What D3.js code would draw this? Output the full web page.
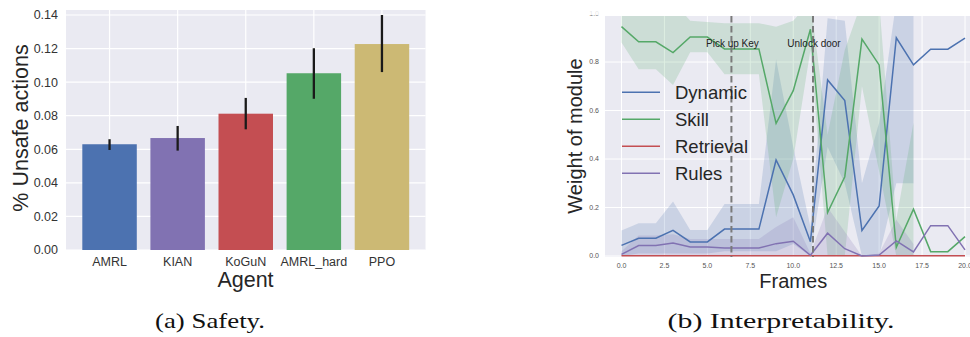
<!DOCTYPE html>
<html><head><meta charset="utf-8">
<script src="https://cdn.jsdelivr.net/npm/d3@7"></script>
<style>body{margin:0;background:#fff;}svg{display:block;font-family:"Liberation Sans",Arial,sans-serif;}</style>
</head><body>
<svg id="c" width="970" height="337"></svg>
<script>
// ---------- Left chart data ----------
const agents = ["AMRL","KIAN","KoGuN","AMRL_hard","PPO"];
const unsafe = [0.063, 0.0667, 0.0812, 0.1053, 0.1227];
const errLow = [0.0596, 0.0592, 0.0719, 0.0901, 0.106];
const errHigh = [0.066, 0.0739, 0.0906, 0.1202, 0.140];
const barColors = ["#4c72b0","#8172b2","#c44e52","#55a868","#ccb974"];
const leftTicks = [0.00,0.02,0.04,0.06,0.08,0.10,0.12,0.14];

// ---------- Right chart data ----------
const frames = d3.range(0,21);
const dynamic = [0.044,0.073,0.073,0.106,0.058,0.058,0.111,0.111,0.111,0.396,0.252,0.059,0.726,0.641,0.105,0.206,0.900,0.788,0.853,0.853,0.898];
const skill   = [0.946,0.883,0.883,0.839,0.903,0.903,0.854,0.854,0.854,0.547,0.682,0.935,0.179,0.327,0.894,0.788,0.036,0.193,0.018,0.018,0.080];
const retrieval = [0.001,0.001,0.001,0.001,0.001,0.001,0.001,0.001,0.001,0.001,0.001,0.001,0.001,0.001,0.001,0.001,0.001,0.001,0.001,0.001,0.001];
const rules   = [0.007,0.043,0.043,0.054,0.037,0.037,0.033,0.033,0.033,0.051,0.061,0.003,0.094,0.030,0.000,0.004,0.062,0.017,0.125,0.125,0.025];
// confidence bands (frames 0..17)
const dynLow  = [0.00,0.01,0.01,0.01,0.01,0.01,0.02,0.02,0.02,0.02,0.05,0.00,0.45,0.30,0.00,0.00,0.30,0.30];
const dynHigh = [0.105,0.135,0.135,0.225,0.107,0.107,0.214,0.214,0.214,0.81,0.45,0.12,0.98,0.97,0.30,0.55,1.05,1.05];
const skLow   = [0.88,0.77,0.77,0.705,0.84,0.84,0.75,0.75,0.75,0.16,0.40,0.85,0.00,0.00,0.70,0.35,0.00,0.00];
const skHigh  = [1.05,1.05,1.05,1.05,0.97,0.965,0.96,0.96,0.96,0.945,0.97,1.05,0.50,0.85,1.05,1.05,0.15,0.55];
const ruLow   = [0,0,0,0,0,0,0,0,0,0,0,0,0,0,0,0,0,0];
const ruHigh  = [0.02,0.085,0.085,0.09,0.07,0.07,0.07,0.07,0.07,0.12,0.16,0.01,0.20,0.10,0.0,0.01,0.15,0.05];
const seriesNames = ["Dynamic","Skill","Retrieval","Rules"];
const seriesColors = ["#4c72b0","#55a868","#c44e52","#8172b2"];
const rightYTicks = [0.0,0.2,0.4,0.6,0.8,1.0];
const rightXTicks = [0,2.5,5,7.5,10,12.5,15,17.5,20];
const eventFrames = [6.4, 11.15];
const eventLabels = ["Pick up Key","Unlock door"];

const svg = d3.select("#c");

// ================= LEFT =================
const L = {x0:66, x1:425.5, y0:10, y1:250};
const xb = d3.scaleBand().domain(agents).range([75.5,416]).paddingInner(0.2).paddingOuter(0.1);
const yl = d3.scaleLinear().domain([0,0.14]).range([250,15]);
const gl = svg.append("g");
gl.append("rect").attr("x",L.x0).attr("y",L.y0).attr("width",L.x1-L.x0).attr("height",L.y1-L.y0).attr("fill","#eaeaf2");
gl.selectAll(".hg").data(leftTicks).join("line").attr("x1",L.x0).attr("x2",L.x1)
  .attr("y1",d=>yl(d)).attr("y2",d=>yl(d)).attr("stroke","#fff").attr("stroke-width",1.2);
gl.selectAll(".vg").data(agents).join("line").attr("y1",L.y0).attr("y2",L.y1)
  .attr("x1",d=>xb(d)+xb.bandwidth()/2).attr("x2",d=>xb(d)+xb.bandwidth()/2).attr("stroke","#fff").attr("stroke-width",1.2);
const step = (416-75.5)/5;
gl.selectAll(".bar").data(agents).join("rect")
  .attr("x",(d,i)=>xb(d)+xb.bandwidth()/2-step*0.4).attr("width",step*0.8)
  .attr("y",(d,i)=>yl(unsafe[i])).attr("height",(d,i)=>yl(0)-yl(unsafe[i]))
  .attr("fill",(d,i)=>barColors[i]);
gl.selectAll(".err").data(agents).join("line")
  .attr("x1",d=>xb(d)+xb.bandwidth()/2).attr("x2",d=>xb(d)+xb.bandwidth()/2)
  .attr("y1",(d,i)=>yl(errLow[i])).attr("y2",(d,i)=>yl(errHigh[i]))
  .attr("stroke","#1a1a1a").attr("stroke-width",2.3);
gl.selectAll(".yt").data(leftTicks).join("text").attr("x",58).attr("y",d=>yl(d)).attr("dy","0.35em")
  .attr("text-anchor","end").attr("font-size",12.5).attr("fill","#333").text(d=>d.toFixed(2));
gl.selectAll(".xt").data(agents).join("text").attr("x",d=>xb(d)+xb.bandwidth()/2).attr("y",266)
  .attr("text-anchor","middle").attr("font-size",12.5).attr("fill","#333").text(d=>d);
gl.append("text").attr("x",245.5).attr("y",287).attr("text-anchor","middle").attr("font-size",21.5).attr("fill","#262626").text("Agent");
gl.append("text").attr("transform","translate(28,128) rotate(-90)").attr("text-anchor","middle").attr("font-size",21.5).attr("fill","#262626").text("% Unsafe actions");

// ================= RIGHT =================
const R = {x0:605, x1:972, y0:16, y1:257};
const xr = d3.scaleLinear().domain([0,20]).range([621.5,965]);
const yr = d3.scaleLinear().domain([0,1]).range([256,13.5]);
const gr = svg.append("g");
gr.append("clipPath").attr("id","rc").append("rect").attr("x",R.x0).attr("y",R.y0).attr("width",R.x1-R.x0).attr("height",R.y1-R.y0);
gr.append("rect").attr("x",R.x0).attr("y",R.y0).attr("width",R.x1-R.x0).attr("height",R.y1-R.y0).attr("fill","#eaeaf2");
const grid = gr.append("g").attr("clip-path","url(#rc)");
grid.selectAll(".hg").data(rightYTicks).join("line").attr("x1",R.x0).attr("x2",R.x1)
  .attr("y1",d=>yr(d)).attr("y2",d=>yr(d)).attr("stroke","#fff").attr("stroke-width",1);
grid.selectAll(".vg").data(rightXTicks).join("line").attr("y1",R.y0).attr("y2",R.y1)
  .attr("x1",d=>xr(d)).attr("x2",d=>xr(d)).attr("stroke","#fff").attr("stroke-width",1);

const plot = gr.append("g").attr("clip-path","url(#rc)");
const values = [dynamic, skill, retrieval, rules];
const lows = [dynLow, skLow, null, ruLow];
const highs = [dynHigh, skHigh, null, ruHigh];
const area = d3.area().x(d=>xr(d.f)).y0(d=>yr(d.lo)).y1(d=>yr(d.hi));
const line = d3.line().x(d=>xr(d.f)).y(d=>yr(d.v));
values.forEach((vals,k)=>{
  if(lows[k]){
    const bd = lows[k].map((lo,i)=>({f:frames[i],lo:lo,hi:highs[k][i]}));
    plot.append("path").attr("d",area(bd)).attr("fill",seriesColors[k]).attr("fill-opacity",0.2);
  }
});
values.forEach((vals,k)=>{
  plot.append("path").attr("d",line(vals.map((v,i)=>({f:frames[i],v:v}))))
    .attr("fill","none").attr("stroke",seriesColors[k]).attr("stroke-width",1.5);
});
// event lines
plot.selectAll(".ev").data(eventFrames).join("line").attr("x1",d=>xr(d)).attr("x2",d=>xr(d))
  .attr("y1",R.y0).attr("y2",R.y1).attr("stroke","#7a7a7a").attr("stroke-width",2).attr("stroke-dasharray","6.5,3.5");
gr.selectAll(".evt").data(eventFrames).join("text").attr("x",d=>xr(d)+1).attr("y",47)
  .attr("text-anchor","middle").attr("font-size",10).attr("fill","#222").text((d,i)=>eventLabels[i]);

// ticks
gr.selectAll(".yt").data(rightYTicks).join("text").attr("x",599).attr("y",d=>yr(d)).attr("dy","0.35em")
  .attr("text-anchor","end").attr("font-size",7).attr("fill","#555").text(d=>d.toFixed(1));
gr.selectAll(".xt").data(rightXTicks).join("text").attr("x",d=>xr(d)).attr("y",268)
  .attr("text-anchor","middle").attr("font-size",7).attr("fill","#555").text(d=>d.toFixed(1));
gr.append("text").attr("x",xr(10)).attr("y",288).attr("text-anchor","middle").attr("font-size",20).attr("fill","#262626").text("Frames");
gr.append("text").attr("transform","translate(582,136) rotate(-90)").attr("text-anchor","middle").attr("font-size",20).attr("fill","#262626").text("Weight of module");

// legend
const lg = gr.append("g");
seriesNames.forEach((n,k)=>{
  const y = 92.3 + k*27;
  lg.append("line").attr("x1",622).attr("x2",660).attr("y1",y).attr("y2",y).attr("stroke",seriesColors[k]).attr("stroke-width",1.5);
  lg.append("text").attr("x",675).attr("y",y).attr("dy","0.35em").attr("font-size",18.5).attr("fill","#262626").text(n);
});
// crop at top of right panel (reference is cut there)
svg.append("rect").attr("x",560).attr("y",0).attr("width",410).attr("height",15.3).attr("fill","#fff").attr("fill-opacity",0.85);

// captions
svg.append("text").attr("x",210).attr("y",328).attr("text-anchor","middle").attr("font-family","Liberation Serif, serif")
  .attr("font-size",21).attr("fill","#111").attr("textLength",110).attr("lengthAdjust","spacingAndGlyphs").text("(a) Safety.");
svg.append("text").attr("x",781).attr("y",328).attr("text-anchor","middle").attr("font-family","Liberation Serif, serif")
  .attr("font-size",21).attr("fill","#111").attr("textLength",227).attr("lengthAdjust","spacingAndGlyphs").text("(b) Interpretability.");
</script>
</body></html>
